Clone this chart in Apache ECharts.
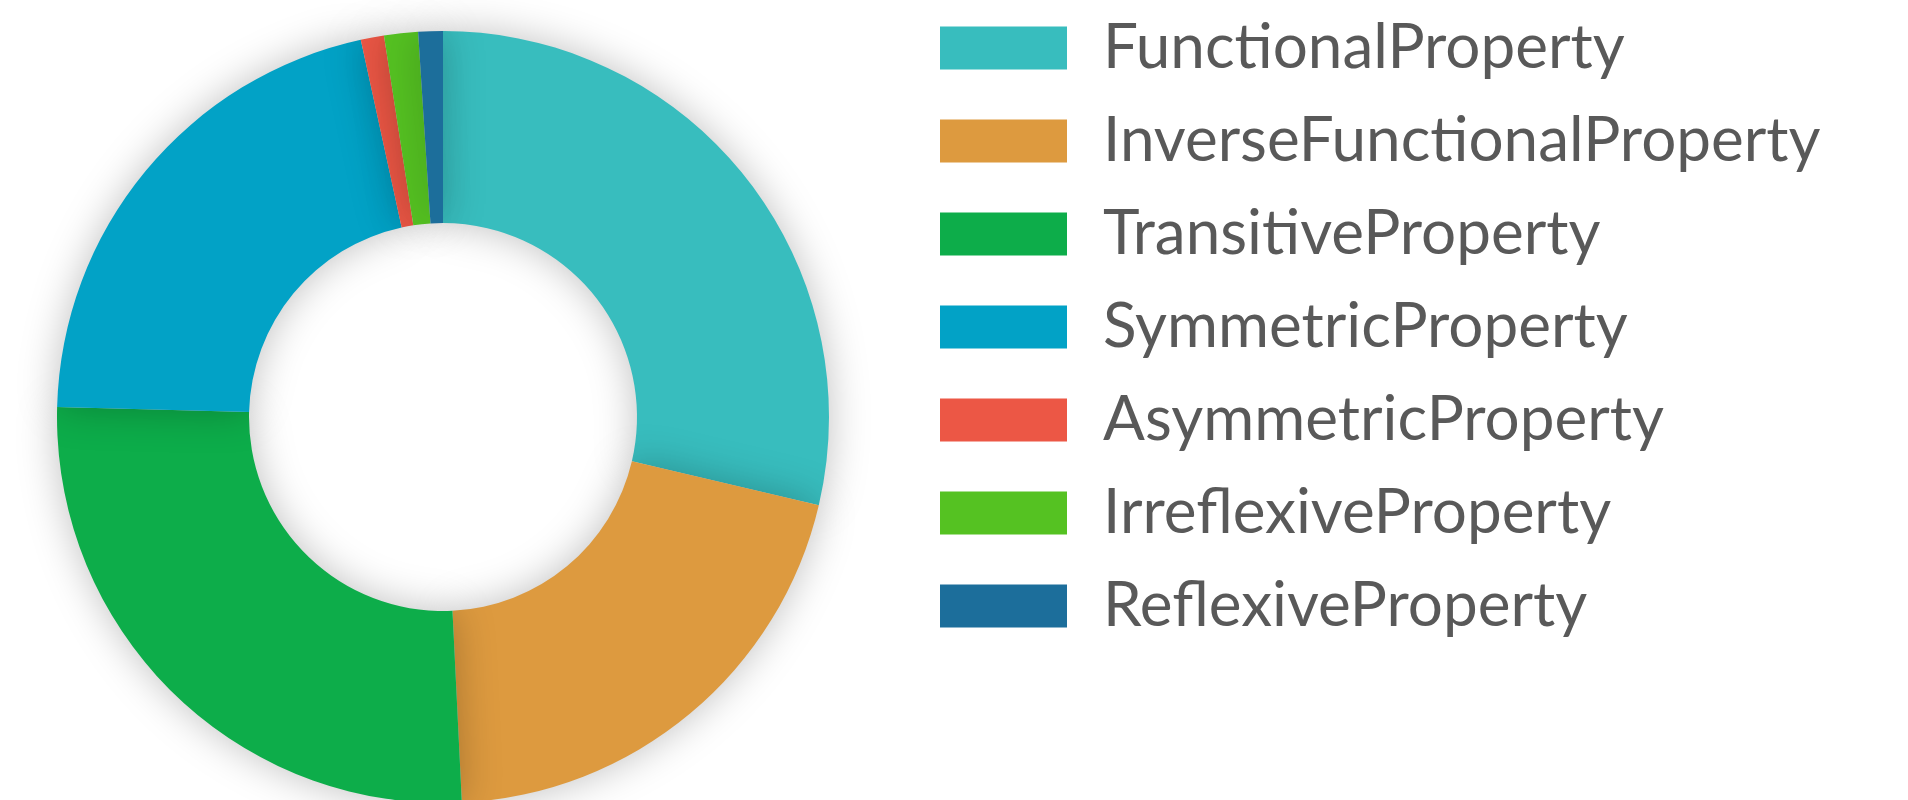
<!DOCTYPE html>
<html>
<head>
    <meta charset="utf-8">
    <title>Property types</title>
    <script src="https://cdn.jsdelivr.net/npm/echarts@6/dist/echarts.min.js"></script>
    <style>
        html, body { margin: 0; padding: 0; background: #fff; }
        #container { width: 1908px; height: 800px; }
    </style>
</head>
<body>
    <div id="container"></div>
    <script>
        var names = ['FunctionalProperty', 'InverseFunctionalProperty', 'TransitiveProperty',
            'SymmetricProperty', 'AsymmetricProperty', 'IrreflexiveProperty', 'ReflexiveProperty'];
        var values = [1032, 740, 943, 762, 35, 51, 37];
        var colors = ['#38bdbe', '#dd9a3f', '#0dad4a', '#02a2c6', '#ec5745', '#55c222', '#1c6e9b'];

        var data = [];
        for (var i = 0; i < names.length; i++) {
            data.push({ name: names[i], value: values[i] });
        }

        var myChart = echarts.init(document.getElementById('container'));
        var option = {
            backgroundColor: '#fff',
            color: colors,
            animation: false,
            legend: {
                orient: 'vertical',
                left: 940,
                top: 17,
                padding: 0,
                itemWidth: 127,
                itemHeight: 43,
                itemGap: 31,
                icon: 'rect',
                textStyle: {
                    fontFamily: 'Lato',
                    fontSize: 62,
                    lineHeight: 62,
                    color: '#595959',
                    padding: [0, 0, 0, 31]
                },
                data: names
            },
            series: [
                {
                    type: 'pie',
                    center: [443, 417],
                    radius: [194, 386],
                    startAngle: 90,
                    avoidLabelOverlap: false,
                    label: { show: false },
                    labelLine: { show: false },
                    itemStyle: {
                        shadowBlur: 40,
                        shadowColor: 'rgba(0, 0, 0, 0.25)'
                    },
                    data: data
                }
            ]
        };
        myChart.setOption(option);
    </script>
</body>
</html>
